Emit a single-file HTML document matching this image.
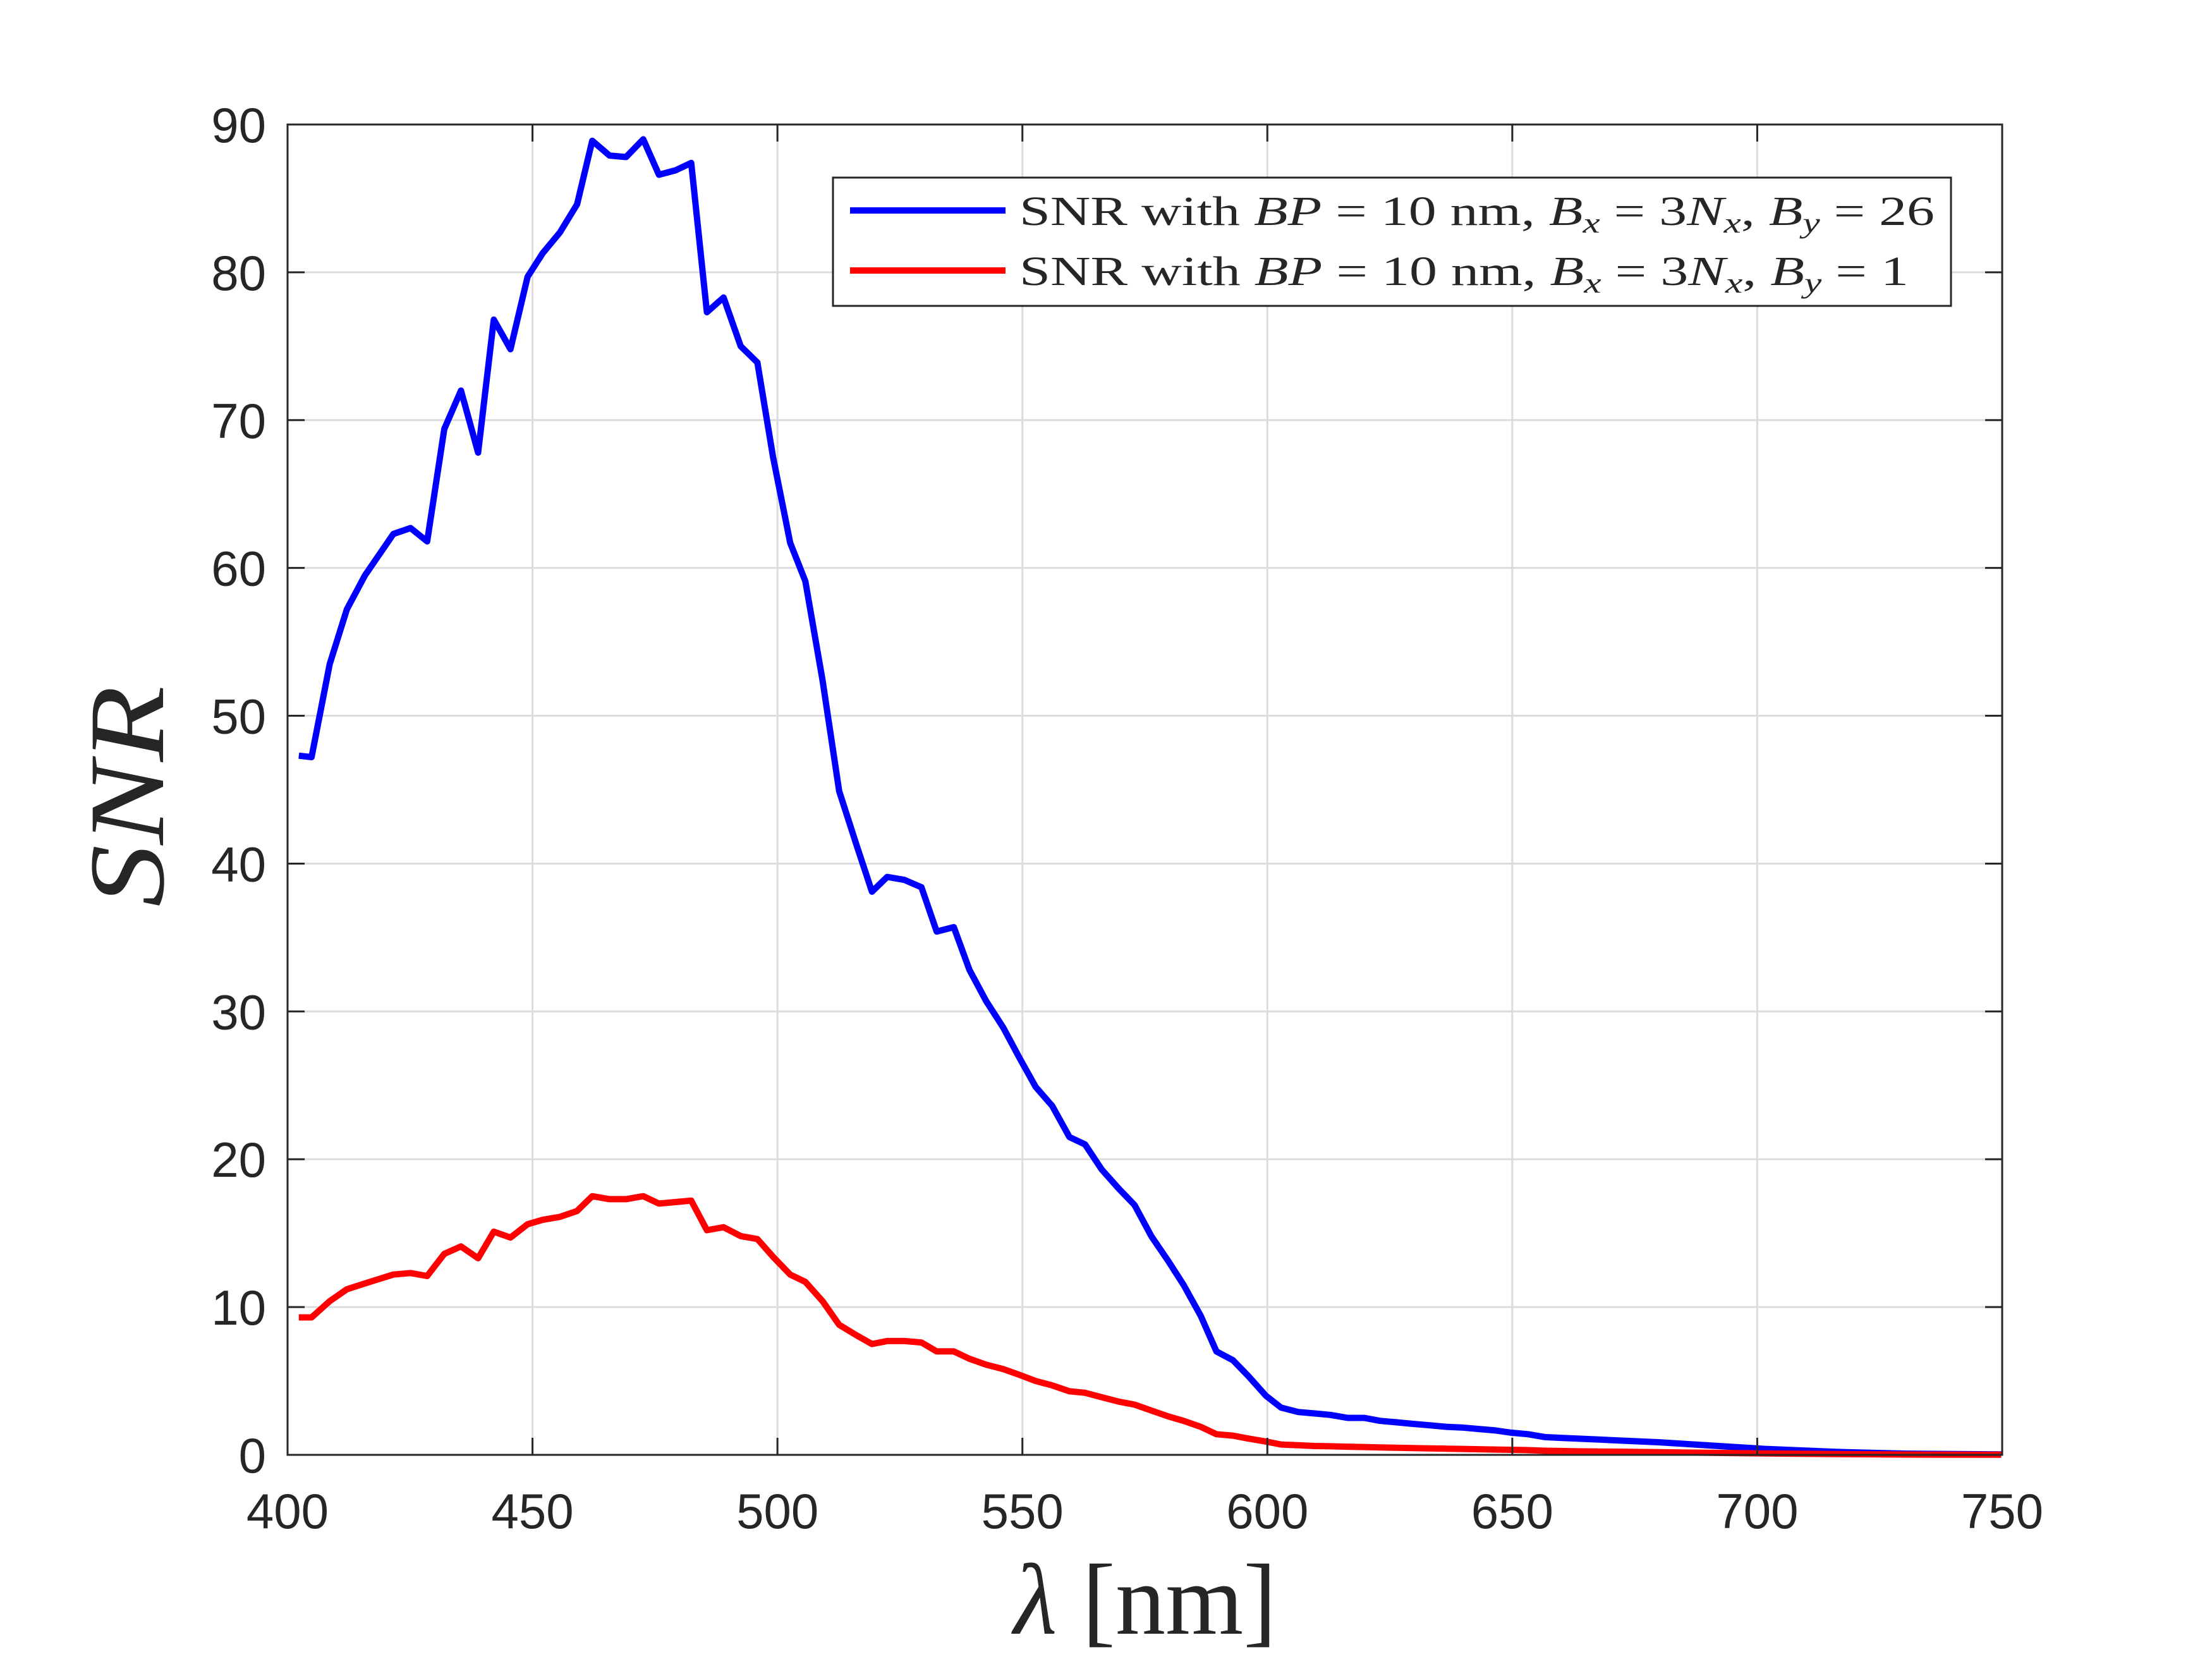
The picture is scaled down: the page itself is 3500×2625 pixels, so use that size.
<!DOCTYPE html>
<html><head><meta charset="utf-8"><style>
html,body{margin:0;padding:0;background:#fff;}
svg{display:block;}
</style></head><body>
<svg id="chart" xmlns="http://www.w3.org/2000/svg" width="3500" height="2625" viewBox="0 0 3500 2625">
<rect x="0" y="0" width="3500" height="2625" fill="#fff"/>
<g id="grid"></g>
<g id="series"></g>
<rect x="455" y="197" width="2713" height="2105" fill="none" stroke="#262626" stroke-width="3"/>
<g id="ticks"></g>
<text x="203" y="1260" font-family="Liberation Serif, serif" font-style="italic" font-size="170" fill="#262626" text-anchor="middle" textLength="350" lengthAdjust="spacingAndGlyphs" transform="rotate(-90 203 1260) translate(0 55)">SNR</text>
<text x="1812" y="2585" font-family="Liberation Serif, serif" font-size="160" fill="#262626" text-anchor="middle" textLength="416" lengthAdjust="spacingAndGlyphs"><tspan font-style="italic">λ</tspan> [nm]</text>
<g>
<rect x="1318" y="281" width="1769" height="203" fill="#fff" stroke="#262626" stroke-width="3"/>
<line x1="1345" y1="333" x2="1591" y2="333" stroke="#0000ff" stroke-width="10"/>
<text x="1613" y="356" font-family="Liberation Serif, serif" font-size="66" fill="#262626" textLength="1448" lengthAdjust="spacingAndGlyphs">SNR with <tspan font-style="italic">BP</tspan> = 10 nm, <tspan font-style="italic">B</tspan><tspan font-style="italic" font-size="46" dy="12">x</tspan><tspan dy="-12"> = 3</tspan><tspan font-style="italic">N</tspan><tspan font-style="italic" font-size="46" dy="12">x</tspan><tspan dy="-12">, </tspan><tspan font-style="italic">B</tspan><tspan font-style="italic" font-size="46" dy="12">y</tspan><tspan dy="-12"> = 26</tspan></text>
<line x1="1345" y1="428" x2="1591" y2="428" stroke="#ff0000" stroke-width="10"/>
<text x="1613" y="451" font-family="Liberation Serif, serif" font-size="66" fill="#262626" textLength="1407" lengthAdjust="spacingAndGlyphs">SNR with <tspan font-style="italic">BP</tspan> = 10 nm, <tspan font-style="italic">B</tspan><tspan font-style="italic" font-size="46" dy="12">x</tspan><tspan dy="-12"> = 3</tspan><tspan font-style="italic">N</tspan><tspan font-style="italic" font-size="46" dy="12">x</tspan><tspan dy="-12">, </tspan><tspan font-style="italic">B</tspan><tspan font-style="italic" font-size="46" dy="12">y</tspan><tspan dy="-12"> = 1</tspan></text>
</g>
</svg>
<script>
const wavelengths = [402.3,404.9,408.6,412.1,415.8,421.6,425.1,428.5,432,435.4,438.9,442.1,445.5,449,452.1,455.6,459.1,462.2,465.7,469.1,472.6,475.8,479.2,482.4,485.6,489,492.5,495.9,499.1,502.6,505.7,509.2,512.6,516.1,519.3,522.4,525.9,529.4,532.5,536,539.2,542.6,546.1,549.5,552.7,556.1,559.6,562.8,566.2,569.7,572.9,576.3,579.8,582.9,586.4,589.6,593,596.2,599.7,602.8,606.3,609.7,612.9,616.4,619.8,623,626.4,629.6,633.1,636.5,639.7,643.2,646.6,649.8,653.2,656.7,659.9,663.3,670,680,687.2,701.6,716,730.5,749.8];
const snrBy26 = [47.3,47.2,53.5,57.2,59.5,62.3,62.7,61.8,69.4,72,67.8,76.8,74.8,79.7,81.3,82.7,84.6,88.9,87.9,87.8,89,86.6,86.9,87.4,77.3,78.3,75,73.9,67.5,61.7,59.1,52.4,44.9,41.3,38.1,39.1,38.9,38.4,35.4,35.7,32.8,30.7,28.9,26.8,24.9,23.6,21.5,21,19.3,18,16.9,14.8,13.1,11.5,9.4,7,6.4,5.3,4,3.2,2.9,2.8,2.7,2.5,2.5,2.3,2.2,2.1,2,1.9,1.85,1.75,1.65,1.5,1.4,1.2,1.15,1.1,1.0,0.85,0.7,0.4,0.2,0.08,0.03];
const snrBy1 = [9.3,9.3,10.4,11.2,11.6,12.2,12.3,12.1,13.6,14.1,13.3,15.1,14.7,15.6,15.9,16.1,16.5,17.5,17.3,17.3,17.5,17.0,17.1,17.2,15.2,15.4,14.8,14.6,13.4,12.2,11.7,10.4,8.8,8.1,7.5,7.7,7.7,7.6,7.0,7.0,6.5,6.1,5.8,5.4,5.0,4.7,4.3,4.2,3.9,3.6,3.4,3.0,2.6,2.3,1.9,1.4,1.3,1.1,0.9,0.7,0.65,0.6,0.58,0.55,0.53,0.5,0.48,0.46,0.44,0.42,0.4,0.38,0.36,0.34,0.32,0.28,0.26,0.24,0.22,0.18,0.15,0.1,0.05,0.02,0.01];
const xTicks = [400,450,500,550,600,650,700,750];
const yTicks = [0,10,20,30,40,50,60,70,80,90];

const NS = 'http://www.w3.org/2000/svg';
const L = 455, R = 3168, T = 197, B = 2302;
const xs = v => L + (v - 400) / 350 * (R - L);
const ys = v => B - v / 90 * (B - T);
function mk(tag, attrs, parent) {
  const e = document.createElementNS(NS, tag);
  for (const k in attrs) e.setAttribute(k, attrs[k]);
  parent.appendChild(e);
  return e;
}
const grid = document.getElementById('grid');
const ticks = document.getElementById('ticks');
const series = document.getElementById('series');
xTicks.forEach(t => {
  const x = xs(t);
  const g = mk('line', {x1: x, y1: T, x2: x, y2: B, stroke: '#dcdcdc', 'stroke-width': 3}, grid);
  
  
  const t1 = mk('line', {x1: x, y1: B, x2: x, y2: B - 27, stroke: '#262626', 'stroke-width': 3}, ticks);
  
  
  const t2 = mk('line', {x1: x, y1: T, x2: x, y2: T + 27, stroke: '#262626', 'stroke-width': 3}, ticks);
  
  
  const lb = mk('text', {x: x, y: 2418, 'font-family': 'Liberation Sans, sans-serif', 'font-size': 78, fill: '#262626', 'text-anchor': 'middle'}, ticks);
  lb.textContent = t;
  
  
});
yTicks.forEach(t => {
  const y = ys(t);
  const g = mk('line', {x1: L, y1: y, x2: R, y2: y, stroke: '#dcdcdc', 'stroke-width': 3}, grid);
  
  
  const t1 = mk('line', {x1: L, y1: y, x2: L + 27, y2: y, stroke: '#262626', 'stroke-width': 3}, ticks);
  
  
  const t2 = mk('line', {x1: R, y1: y, x2: R - 27, y2: y, stroke: '#262626', 'stroke-width': 3}, ticks);
  
  
  const lb = mk('text', {x: 421, y: y + 28, 'font-family': 'Liberation Sans, sans-serif', 'font-size': 78, fill: '#262626', 'text-anchor': 'end'}, ticks);
  lb.textContent = t;
  
  
});
function line(vals, color, name) {
  const d = vals.map((v, i) => (i ? 'L' : 'M') + xs(wavelengths[i]).toFixed(1) + ' ' + ys(v).toFixed(1)).join(' ');
  const p = mk('path', {d: d, fill: 'none', stroke: color, 'stroke-width': 10, 'stroke-linejoin': 'round'}, series);
  
  
}
line(snrBy26, '#0000ff', 'snr-by26-line');
line(snrBy1, '#ff0000', 'snr-by1-line');
</script>
</body></html>
